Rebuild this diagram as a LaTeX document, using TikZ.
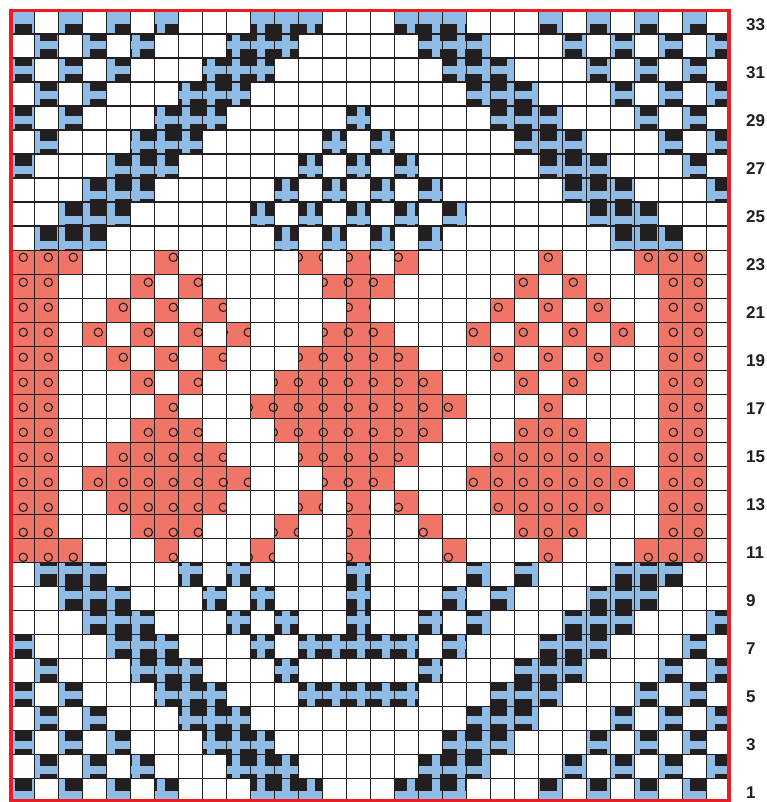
\documentclass[tikz,border=0pt]{standalone}
\usepackage{fontspec}
\setmainfont{Liberation Sans}
\definecolor{ink}{HTML}{231F20}
\definecolor{sky}{HTML}{8FBCE6}
\definecolor{salmon}{HTML}{F07567}
\definecolor{rim}{HTML}{ED1C24}
\newcommand{\cellat}[2]{({10.3+24*(#1-1)},{10.3+24*(33-#2)}) rectangle ++(24,24)}
\def\skyrows{33/{1,3,5,7,11,12,13},32/{2,4,6,10,11,12},31/{1,3,5,9,10,11},30/{2,4,8,9,10},29/{1,3,7,8,9,15},28/{2,6,7,8,14},27/{1,5,6,7,13,15},26/{4,5,6,12,14},25/{3,4,5,11,13,15},24/{2,3,4,12,14},10/{2,3,4,8,10,15},9/{3,4,5,9,11,15},8/{4,5,6,10,12,15},7/{1,5,6,7,11,13,14,15},6/{2,6,7,8,12},5/{1,3,7,8,9,13,14,15},4/{2,4,8,9,10},3/{1,3,5,9,10,11},2/{2,4,6,10,11,12},1/{1,3,5,7,11,12,13}}
\def\edgerows{2,4,6,8,26,28,30,32}
\def\salmonrows{23/{1,2,3,7,13,15},22/{1,2,6,8,14,15},21/{1,2,5,7,9,15},20/{1,2,4,6,8,10,14,15},19/{1,2,5,7,9,13,14,15},18/{1,2,6,8,12,13,14,15},17/{1,2,7,11,12,13,14,15},16/{1,2,6,7,8,12,13,14,15},15/{1,2,5,6,7,8,9,13,14,15},14/{1,2,4,5,6,7,8,9,10,14,15},13/{1,2,5,6,7,8,9,13,15},12/{1,2,6,7,8,12,15},11/{1,2,3,7,11,15}}
\begin{document}
\begin{tikzpicture}[x=1pt,y=-1pt,
  gridline/.style={ink,line width=1.6pt},
  ring/.style={ink,line width=1.1pt},
  rowlabel/.style={anchor=west,inner sep=0pt,text=ink,font=\fontsize{17}{17}\selectfont\bfseries}]
  \useasboundingbox (0,0) rectangle (767,802);
  \fill[white] (0,0) rectangle (767,802);
  \foreach \r/\cs in \skyrows {\foreach \c in \cs {\fill[sky] \cellat{\c}{\r} \cellat{30-\c}{\r};}}
  \foreach \r in \edgerows {\fill[sky] \cellat{30}{\r};}
  \foreach \r/\cs in \salmonrows {\foreach \c in \cs {\fill[salmon] \cellat{\c}{\r} \cellat{30-\c}{\r};}}
  \begin{scope}
    \clip \foreach \r/\cs in \skyrows {\foreach \c in \cs {\cellat{\c}{\r} \cellat{30-\c}{\r}}} \foreach \r in \edgerows {\cellat{30}{\r}};
    \foreach \k in {0,...,28} \foreach \j in {0,...,31} \fill[ink] ({14.8+25*\k},{23.8+25*\j}) rectangle ++(17,17);
  \end{scope}
  \begin{scope}
    \clip \foreach \r/\cs in \salmonrows {\foreach \c in \cs {\cellat{\c}{\r} \cellat{30-\c}{\r}}};
    \foreach \k in {0,...,28} \foreach \j in {8,...,22} \draw[ring] ({23.3+25*\k},{32.3+25*\j}) circle (4.2pt);
  \end{scope}
  \foreach \i in {1,...,29} \draw[gridline] ({10.3+24*\i},10.3) -- ({10.3+24*\i},802.3);
  \foreach \i in {1,...,32} \draw[gridline] (10.3,{10.3+24*\i}) -- (730.3,{10.3+24*\i});
  \draw[rim,line width=3.8pt] (10.6,10.6) rectangle (728.6,800.6);
  \foreach \r in {1,3,...,33} \node[rowlabel] (row\r) at (746,{24.8+24*(33-\r)}) {\r};
\end{tikzpicture}
\end{document}
